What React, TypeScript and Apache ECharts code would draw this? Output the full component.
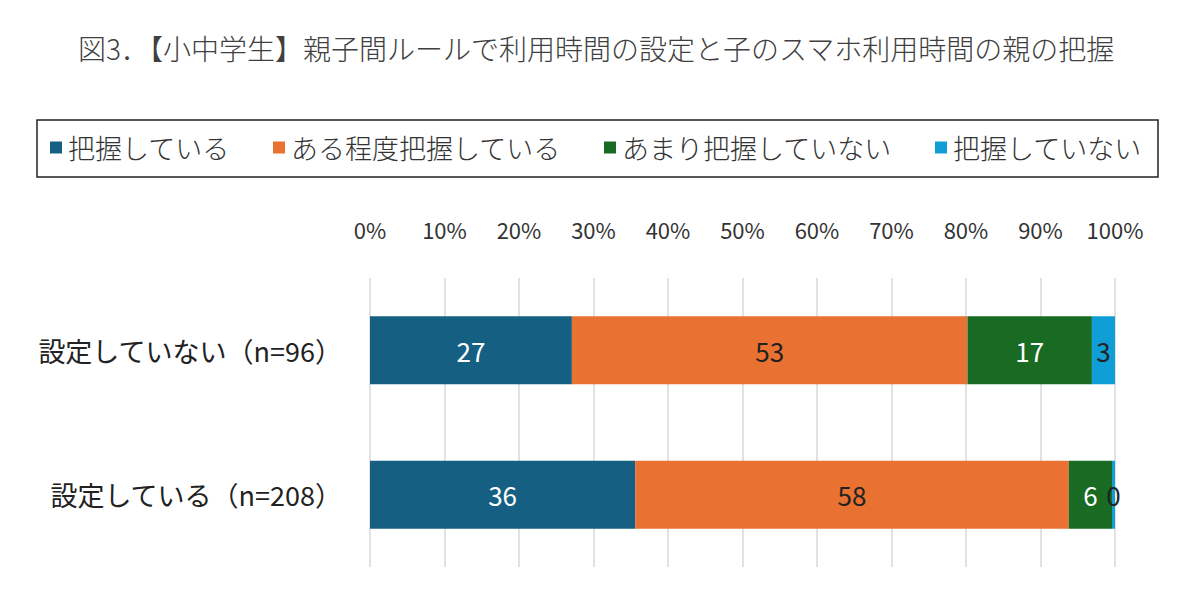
import React, { useEffect, useRef } from "react";
import * as echarts from "echarts";

const titleText = "図3．【小中学生】親子間ルールで利用時間の設定と子のスマホ利用時間の親の把握";
const categories = ["設定していない（n=96）", "設定している（n=208）"];
const seriesNames = ["把握している", "ある程度把握している", "あまり把握していない", "把握していない"];
const grasp = [27.1, 35.6];
const somewhat = [53.1, 58.2];
const notMuch = [16.7, 5.8];
const notAtAll = [3.1, 0.48];
const seriesValues = [grasp, somewhat, notMuch, notAtAll];
const colors = ["#156082", "#E97132", "#196B24", "#0F9ED5"];
const labelColors = ["#ffffff", "#222222", "#ffffff", "#222222"];

const FONT = "'Noto Sans CJK JP', 'Noto Sans', sans-serif";

export default function App() {
  const ref = useRef<HTMLDivElement>(null);
  useEffect(() => {
    document.body.style.margin = "0";
    if (!ref.current) return;
    const chart = echarts.init(ref.current, null, { renderer: "svg" });
    chart.setOption({
      animation: false,
      backgroundColor: "#ffffff",
      textStyle: { fontFamily: FONT },
      title: {
        text: titleText,
        left: 73,
        top: 29,
        textStyle: { fontFamily: FONT, fontSize: 28, fontWeight: 300, color: "#404040" },
      },
      graphic: [
        {
          type: "rect",
          shape: { x: 37, y: 120, width: 1121, height: 57 },
          style: { fill: "none", stroke: "#222222", lineWidth: 1.5 },
          z: 0,
        },
      ],
      legend: {
        data: seriesNames,
        top: 129,
        left: 45,
        itemWidth: 12,
        itemHeight: 12,
        itemGap: 43,
        icon: "rect",
        textStyle: { fontFamily: FONT, fontSize: 27, fontWeight: 300, color: "#333333", padding: [0, 0, 0, 1] },
      },
      grid: { left: 370, right: 85, top: 278, bottom: 26, containLabel: false },
      xAxis: {
        type: "value",
        position: "top",
        min: 0,
        max: 100,
        interval: 10,
        axisLine: { show: false },
        axisTick: { show: false },
        axisLabel: {
          formatter: "{value}%",
          fontFamily: FONT,
          fontSize: 22,
          color: "#333333",
          margin: 38,
        },
        splitLine: { show: true, lineStyle: { color: "#d9d9d9", width: 1.5 } },
      },
      yAxis: {
        type: "category",
        data: categories,
        inverse: true,
        axisLine: { show: false },
        axisTick: { show: false },
        axisLabel: { fontFamily: FONT, fontSize: 27, color: "#222222", margin: 28 },
      },
      series: seriesNames.map((name, i) => ({
        name,
        type: "bar",
        stack: "total",
        barWidth: 68,
        data: seriesValues[i],
        itemStyle: { color: colors[i] },
        label: {
          show: true,
          position: "inside",
          formatter: (p: any) => String(Math.round(p.value)),
          fontFamily: FONT,
          fontSize: 26,
          color: labelColors[i],
        },
      })),
    });
    return () => chart.dispose();
  }, []);
  return <div ref={ref} style={{ width: 1200, height: 593 }} />;
}
